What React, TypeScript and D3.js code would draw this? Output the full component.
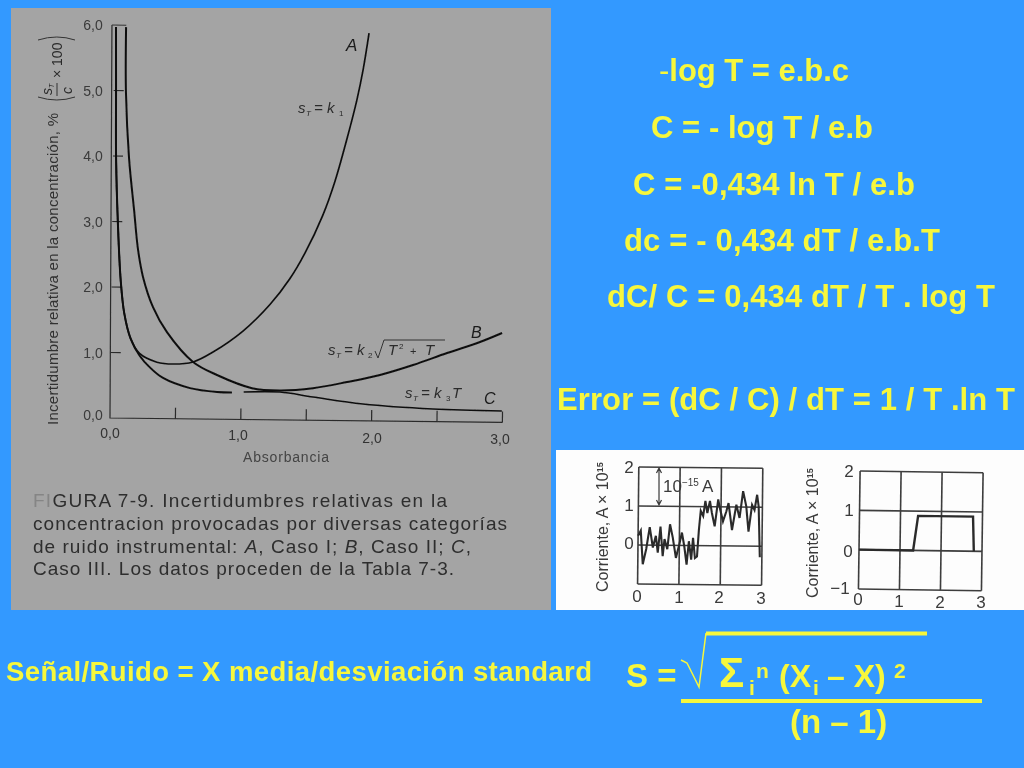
import React, { useEffect, useRef } from "react";
import * as d3 from "d3";

type Pt = [number, number];

// main figure: absorbance, relative uncertainty
const curveA: Pt[] = [
  [0.012, 5.97], [0.018, 4.96], [0.024, 3.97], [0.044, 2.95], [0.07, 2.1], [0.1, 1.6],
  [0.15, 1.22], [0.22, 0.99], [0.354, 0.86], [0.477, 0.835], [0.63, 0.87], [0.782, 1.025],
  [1.009, 1.35], [1.213, 1.76], [1.364, 2.16], [1.476, 2.55], [1.609, 3.13], [1.699, 3.65],
  [1.787, 4.3], [1.86, 4.9], [1.904, 5.35], [1.947, 5.92],
];
const curveB: Pt[] = [
  [0.089, 5.97], [0.094, 4.96], [0.123, 3.97], [0.166, 3.18], [0.2, 2.57], [0.24, 2.16],
  [0.319, 1.7], [0.428, 1.32], [0.63, 0.87], [0.814, 0.675], [1.083, 0.48], [1.297, 0.45],
  [1.549, 0.49], [1.809, 0.59], [2.06, 0.703], [2.312, 0.861], [2.571, 1.05], [2.822, 1.224],
  [2.99, 1.365],
];
const curveC1: Pt[] = [
  [0.012, 5.97], [0.018, 4.96], [0.024, 3.97], [0.044, 2.95], [0.07, 2.1], [0.1, 1.6],
  [0.15, 1.22], [0.22, 0.96], [0.3, 0.78], [0.402, 0.62], [0.609, 0.47], [0.816, 0.415], [0.93, 0.41],
];
const curveC2: Pt[] = [
  [1.02, 0.42], [1.297, 0.426], [1.55, 0.356], [1.932, 0.257], [2.468, 0.193], [2.995, 0.175],
];
const mainXTicks = [0.5, 1, 1.5, 2, 2.5, 3];
const mainYTicks = [1, 2, 3, 4, 5];
const mainYLabels = ["0,0", "1,0", "2,0", "3,0", "4,0", "5,0", "6,0"];
const mainXLabels = ["0,0", "1,0", "2,0", "3,0"];

// the two small current/time plots
const noisyT = [
  0, 0.064, 0.12, 0.2, 0.28, 0.36, 0.43, 0.48, 0.54, 0.6, 0.64, 0.71, 0.77, 0.84, 0.92, 1.0,
  1.06, 1.12, 1.18, 1.23, 1.29, 1.33, 1.38, 1.43, 1.47, 1.51, 1.57, 1.62, 1.67, 1.73, 1.78, 1.85,
  1.93, 1.98, 2.05, 2.13, 2.18, 2.27, 2.37, 2.45, 2.53, 2.61, 2.67, 2.75, 2.81, 2.87, 2.91, 2.95,
];
const noisyI = [
  0.24, 0.37, -0.49, -0.1, 0.46, -0.06, 0.24, -0.19, 0.48, -0.28, 0.16, -0.1, 0.54, 0.2, -0.32, 0.03,
  0.33, -0.02, -0.49, 0.11, -0.36, 0.2, -0.32, -0.28, 0.41, 0.89, 0.76, 1.15, 0.84, 1.15, 0.84, 0.5,
  1.19, 0.93, 0.63, 0.89, 1.1, 0.41, 1.06, 0.72, 1.41, 1.02, 0.37, 1.06, 0.93, 1.32, 1.02, -0.28,
];
const cleanT = [0, 1.32, 1.43, 2.77, 2.8];
const cleanI = [0, 0, 0.88, 0.88, 0];
const smallXTicks = [0, 1, 2, 3];
const smallYTicks = [-1, 0, 1, 2];

const SANS = "'Liberation Sans', Arial, sans-serif";
const BLUE = "#3399ff";
const YELLOW = "#f7f73c";

const equations: [string, number, number, number][] = [
  ["-log T = e.b.c", 659, 849, 81],
  ["C = - log T / e.b", 651, 873, 138],
  ["C = -0,434 ln T / e.b", 633, 915, 195],
  ["dc = - 0,434 dT / e.b.T", 624, 940, 251],
  ["dC/ C = 0,434 dT / T . log T", 607, 995, 307],
  ["Error = (dC / C) / dT = 1 / T .ln T", 557, 1015, 410],
];

export default function App() {
  const ref = useRef<SVGSVGElement | null>(null);

  useEffect(() => {
    if (!ref.current) return;
    const svg = d3.select(ref.current);
    svg.selectAll("*").remove();

    svg.append("rect").attr("width", 1024).attr("height", 768).attr("fill", BLUE);

    const defs = svg.append("defs");
    defs.append("filter").attr("id", "scan").append("feGaussianBlur").attr("stdDeviation", 0.35);

    // scanned figure panel
    svg.append("rect").attr("x", 11).attr("y", 8).attr("width", 540).attr("height", 602).attr("fill", "#a4a4a4");

    const x = d3.scaleLinear().domain([0, 3]).range([110, 502.4]);
    const y = d3.scaleLinear().domain([0, 6]).range([418, 25]);
    const main = svg.append("g").attr("filter", "url(#scan)");
    const plot = main.append("g").attr("transform", "rotate(0.65 110 418)");
    const line = d3.line<Pt>().x((d) => x(d[0])).y((d) => y(d[1])).curve(d3.curveCatmullRom.alpha(0.5));

    // the scanned y axis leans a little less than the rest of the page
    plot.append("path").attr("d", `M${x(0) - 2.5},${y(6)}L${x(0)},${y(0)}H${x(3)}`).attr("fill", "none").attr("stroke", "#2a2a2a").attr("stroke-width", 1.2);
    mainXTicks.forEach((t) => {
      plot.append("line").attr("x1", x(t)).attr("x2", x(t)).attr("y1", y(0)).attr("y2", y(0) - 11).attr("stroke", "#2a2a2a").attr("stroke-width", 1.2);
    });
    mainYTicks.forEach((t) => {
      plot.append("line").attr("x1", x(0)).attr("x2", x(0) + 10).attr("y1", y(t)).attr("y2", y(t)).attr("stroke", "#2a2a2a").attr("stroke-width", 1.1);
    });
    plot.append("line").attr("x1", x(0) - 2.5).attr("x2", x(0.09)).attr("y1", y(6)).attr("y2", y(6)).attr("stroke", "#333").attr("stroke-width", 1);
    [
      { d: curveA, w: 1.7 },
      { d: curveB, w: 2 },
      { d: curveC1, w: 2 },
      { d: curveC2, w: 1.6 },
    ].forEach((c) => {
      plot.append("path").attr("d", line(c.d)).attr("fill", "none").attr("stroke", "#111").attr("stroke-width", c.w);
    });

    const scanText = (px: number, py: number, s: string, size: number, opts: { anchor?: string; fill?: string; italic?: boolean; len?: number } = {}) =>
      main.append("text").attr("x", px).attr("y", py).attr("font-family", SANS).attr("font-size", size)
        .attr("text-anchor", opts.anchor ?? "start").attr("fill", opts.fill ?? "#2b2b2b")
        .attr("font-style", opts.italic ? "italic" : "normal")
        .attr("textLength", opts.len ?? null).attr("lengthAdjust", "spacing").text(s);

    mainYLabels.forEach((s, i) => {
      scanText(93, y(i) + (i === 0 ? 2 : 5), s, 14, { anchor: "middle", fill: "#3a3a3a" });
    });
    mainXLabels.forEach((s, i) => {
      scanText([110, 238, 372, 500][i], [438, 440, 443, 444][i], s, 14, { anchor: "middle", fill: "#333" });
    });
    scanText(243, 462, "Absorbancia", 14, { fill: "#444", len: 86 });

    const yTitle = main.append("g").attr("transform", "translate(58,425) rotate(-90)");
    yTitle.append("text").attr("font-family", SANS).attr("font-size", 15).attr("fill", "#303030")
      .attr("textLength", 312).attr("lengthAdjust", "spacing")
      .text("Incertidumbre relativa en la concentración, %");
    const paren = main.append("g").attr("transform", "translate(57,100) rotate(-90)");
    paren.append("path").attr("d", "M3,-19Q-3,0 3,18").attr("fill", "none").attr("stroke", "#333").attr("stroke-width", 1);
    paren.append("path").attr("d", "M60,-19Q66,0 60,18").attr("fill", "none").attr("stroke", "#333").attr("stroke-width", 1);
    paren.append("text").attr("x", 5).attr("y", -5).attr("font-family", SANS).attr("font-size", 14).attr("fill", "#2b2b2b").attr("font-style", "italic").text("s");
    paren.append("text").attr("x", 12).attr("y", -3).attr("font-family", SANS).attr("font-size", 7).attr("fill", "#2b2b2b").attr("font-style", "italic").text("T");
    paren.append("line").attr("x1", 4).attr("x2", 17).attr("y1", 0).attr("y2", 0).attr("stroke", "#333");
    paren.append("text").attr("x", 6).attr("y", 15).attr("font-family", SANS).attr("font-size", 14).attr("fill", "#2b2b2b").attr("font-style", "italic").text("c");
    paren.append("text").attr("x", 22).attr("y", 5).attr("font-family", SANS).attr("font-size", 14).attr("fill", "#2b2b2b").text("× 100");

    scanText(346, 51, "A", 17, { italic: true, fill: "#1a1a1a" });
    scanText(298, 113, "s", 15, { italic: true });
    scanText(306, 116, "T", 8, { italic: true });
    scanText(314, 113, "= k", 15, { italic: true });
    scanText(339, 116, "1", 8);
    scanText(471, 338, "B", 16, { italic: true, fill: "#1a1a1a" });
    scanText(484, 404, "C", 16, { italic: true, fill: "#1a1a1a" });
    scanText(328, 355, "s", 15, { italic: true });
    scanText(336, 358, "T", 8, { italic: true });
    scanText(344, 355, "= k", 15, { italic: true });
    scanText(368, 358, "2", 8);
    main.append("path").attr("d", "M375,351L378,358L384,340H445").attr("fill", "none").attr("stroke", "#333").attr("stroke-width", 1);
    scanText(388, 355, "T", 15, { italic: true });
    scanText(399, 349, "2", 8);
    scanText(410, 355, "+", 11);
    scanText(425, 355, "T", 15, { italic: true });
    scanText(405, 398, "s", 15, { italic: true });
    scanText(413, 401, "T", 8, { italic: true });
    scanText(421, 398, "= k", 15, { italic: true });
    scanText(446, 401, "3", 8);
    scanText(452, 398, "T", 15, { italic: true });

    // caption
    const cap1 = scanText(33, 507, "", 19, { len: 414, fill: "#2e2e2e" });
    cap1.append("tspan").attr("fill", "#858585").text("FI");
    cap1.append("tspan").text("GURA 7-9.   Incertidumbres relativas en la");
    scanText(33, 530, "concentracion provocadas por diversas categorías", 19, { len: 474, fill: "#2e2e2e" });
    const cap3 = scanText(33, 553, "", 19, { len: 438, fill: "#2e2e2e" });
    cap3.append("tspan").text("de ruido instrumental: ");
    cap3.append("tspan").attr("font-style", "italic").text("A");
    cap3.append("tspan").text(", Caso I; ");
    cap3.append("tspan").attr("font-style", "italic").text("B");
    cap3.append("tspan").text(", Caso II; ");
    cap3.append("tspan").attr("font-style", "italic").text("C");
    cap3.append("tspan").text(",");
    scanText(33, 575, "Caso III. Los datos proceden de la Tabla 7-3.", 19, { len: 421, fill: "#2e2e2e" });

    // white panel with the two small plots
    svg.append("rect").attr("x", 556).attr("y", 450).attr("width", 468).attr("height", 160).attr("fill", "#fdfdfd");
    const small = svg.append("g").attr("filter", "url(#scan)");
    const drawSmall = (
      ox: [number, number],
      oy: [number, number],
      rotate: string,
      ts: number[],
      is: number[],
      w: number,
    ) => {
      const sx = d3.scaleLinear().domain([0, 3]).range(ox);
      const sy = d3.scaleLinear().domain([-1, 2]).range(oy);
      const g = small.append("g").attr("transform", rotate);
      smallXTicks.forEach((t) => {
        g.append("line").attr("x1", sx(t)).attr("x2", sx(t)).attr("y1", oy[0]).attr("y2", oy[1]).attr("stroke", "#3c3c3c").attr("stroke-width", 1.6);
      });
      smallYTicks.forEach((t) => {
        g.append("line").attr("x1", ox[0]).attr("x2", ox[1]).attr("y1", sy(t)).attr("y2", sy(t)).attr("stroke", "#3c3c3c").attr("stroke-width", 1.6);
      });
      const pts = ts.map((t, i) => [t, is[i]] as Pt);
      g.append("path").attr("d", d3.line<Pt>().x((d) => sx(d[0])).y((d) => sy(d[1]))(pts)).attr("fill", "none").attr("stroke", "#2c2c2c").attr("stroke-width", w);
    };
    drawSmall([638, 762], [584, 467], "rotate(0.6 638 544)", noisyT, noisyI, 2.1);
    drawSmall([859, 982], [589, 471], "rotate(0.8 859 550)", cleanT, cleanI, 2.4);

    const smallText = (px: number, py: number, s: string, size = 17, anchor = "middle") =>
      small.append("text").attr("x", px).attr("y", py).attr("font-family", SANS).attr("font-size", size).attr("fill", "#3a3a3a").attr("text-anchor", anchor).text(s);

    ["2", "1", "0"].forEach((s, i) => smallText(629, [473, 511, 549][i], s));
    ["0", "1", "2", "3"].forEach((s, i) => smallText([637, 679, 719, 761][i], [602, 603, 603, 604][i], s));
    ["2", "1", "0", "−1"].forEach((s, i) => smallText([849, 849, 848, 840][i], [477, 516, 557, 594][i], s));
    ["0", "1", "2", "3"].forEach((s, i) => smallText([858, 899, 940, 981][i], [605, 607, 608, 608][i], s));

    [
      { px: 608, py: 592 },
      { px: 818, py: 598 },
    ].forEach((o) => {
      const t = small.append("text").attr("transform", `translate(${o.px},${o.py}) rotate(-90)`).attr("font-family", SANS).attr("font-size", 16).attr("fill", "#3a3a3a");
      t.append("tspan").text("Corriente, A  ×  10");
      t.append("tspan").attr("dy", -5).attr("font-size", 9).attr("font-weight", "bold").text("15");
    });

    // 10^-15 A marker
    small.append("path").attr("d", "M659,468V505M656.5,473L659,468L661.5,473M656.5,500L659,505L661.5,500").attr("fill", "none").attr("stroke", "#3a3a3a").attr("stroke-width", 1.2);
    const amp = small.append("text").attr("x", 663).attr("y", 492).attr("font-family", SANS).attr("font-size", 17).attr("fill", "#3a3a3a");
    amp.append("tspan").text("10");
    amp.append("tspan").attr("dy", -6).attr("font-size", 10).text("−15");
    amp.append("tspan").attr("dy", 6).attr("dx", 3).text("A");

    // equations on the right
    equations.forEach(([s, x0, x1, base]) => {
      const t = svg.append("text").attr("x", x0).attr("y", base).attr("font-family", SANS).attr("font-weight", "bold")
        .attr("font-size", 31).attr("fill", YELLOW)
        .attr("textLength", x1 - x0).attr("lengthAdjust", "spacing");
      if (s.startsWith("-")) {
        t.append("tspan").attr("font-weight", "normal").text("-");
        t.append("tspan").text(s.slice(1));
      } else {
        t.text(s);
      }
    });

    svg.append("text").attr("x", 6).attr("y", 681).attr("font-family", SANS).attr("font-weight", "bold")
      .attr("font-size", 27.5).attr("fill", YELLOW).attr("textLength", 586).attr("lengthAdjust", "spacing")
      .text("Señal/Ruido = X media/desviación standard");

    // S formula
    const yt = (px: number, py: number, s: string, size: number) =>
      svg.append("text").attr("x", px).attr("y", py).attr("font-family", SANS).attr("font-weight", "bold").attr("font-size", size).attr("fill", YELLOW).text(s);
    yt(626, 687, "S =", 33);
    svg.append("path").attr("d", "M681,660L687,663L699,687L706,633").attr("fill", "none").attr("stroke", YELLOW).attr("stroke-width", 1.5);
    svg.append("path").attr("d", "M706,633.5H927").attr("fill", "none").attr("stroke", YELLOW).attr("stroke-width", 4);
    yt(719, 687, "Σ", 42);
    yt(749, 695, "i", 21);
    yt(756, 678, "n", 21);
    yt(779, 687, "(X", 32);
    yt(813, 695, "i", 21);
    yt(827, 687, "– X)", 32);
    yt(894, 678, "2", 21);
    svg.append("line").attr("x1", 681).attr("x2", 982).attr("y1", 701).attr("y2", 701).attr("stroke", YELLOW).attr("stroke-width", 4);
    yt(790, 733, "(n – 1)", 33);
  }, []);

  return <svg ref={ref} width={1024} height={768} style={{ position: "absolute", left: 0, top: 0 }} />;
}
